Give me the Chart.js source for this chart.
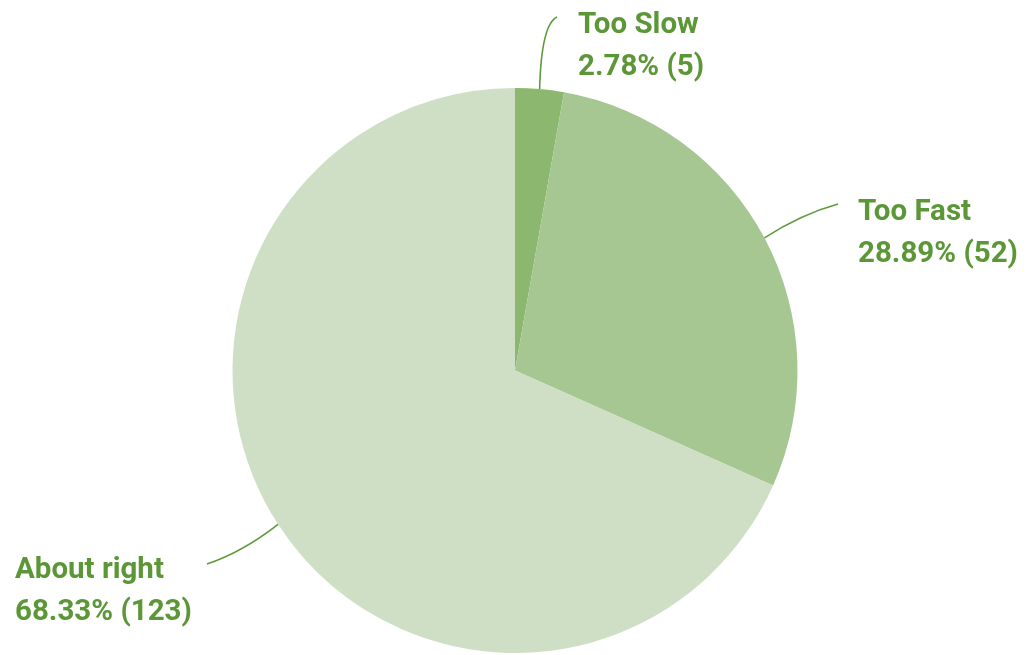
<!DOCTYPE html>
<html>
<head>
<meta charset="utf-8">
<script src="https://cdn.jsdelivr.net/npm/chart.js@4/dist/chart.umd.min.js"></script>
<style>
    html, body { margin: 0; padding: 0; background: #fff; }
    #wrap { width: 1031px; height: 655px; position: relative; }
</style>
</head>
<body>
<div id="wrap"><canvas id="paceChart"></canvas></div>
<script>
var labels = ["Too Slow", "Too Fast", "About right"];
var counts = [5, 52, 123];
var percents = ["2.78%", "28.89%", "68.33%"];
var colors = ["#8bb76f", "#a6c791", "#cfdfc5"];

// where each caption sits (left edge, first baseline), where its leader ends,
// and how the leader bends (bx, by = control point fraction along x / y)
var captionPos = [
    { x: 578, y: 33, lx: 557, ly: 17, bx: 0.1, by: 0.9 },
    { x: 858, y: 220, lx: 838, ly: 204, bx: 0.5, by: 0.7 },
    { x: 15, y: 578, lx: 207, ly: 564, bx: 0.5, by: 0.7 }
];

var leaderLabels = {
    id: 'leaderLabels',
    afterDraw: function(chart) {
        var ctx = chart.ctx;
        var meta = chart.getDatasetMeta(0);
        ctx.save();
        for (var i = 0; i < meta.data.length; i++) {
            var arc = meta.data[i];
            var p = arc.getProps(['x', 'y', 'startAngle', 'endAngle', 'outerRadius'], true);
            var mid = (p.startAngle + p.endAngle) / 2;
            var sx = p.x + Math.cos(mid) * p.outerRadius;
            var sy = p.y + Math.sin(mid) * p.outerRadius;
            var pos = captionPos[i];
            var cx = sx + (pos.lx - sx) * pos.bx;
            var cy = sy + (pos.ly - sy) * pos.by;

            ctx.beginPath();
            ctx.moveTo(sx, sy);
            ctx.quadraticCurveTo(cx, cy, pos.lx, pos.ly);
            ctx.strokeStyle = "#5e9a3a";
            ctx.lineWidth = 1.6;
            ctx.stroke();

            ctx.fillStyle = "#5b9737";
            ctx.font = "bold 29.5px Roboto";
            ctx.textAlign = "left";
            ctx.textBaseline = "alphabetic";
            ctx.fillText(labels[i], pos.x, pos.y);
            ctx.fillText(percents[i] + " (" + counts[i] + ")", pos.x, pos.y + 42);
        }
        ctx.restore();
    }
};

var chart = new Chart(document.getElementById("paceChart"), {
    type: 'pie',
    data: {
        labels: labels,
        datasets: [{
            data: counts,
            backgroundColor: colors,
            borderWidth: 0
        }]
    },
    options: {
        responsive: true,
        maintainAspectRatio: false,
        animation: false,
        layout: {
            padding: { top: 88, bottom: 2, left: 0, right: 1 }
        },
        plugins: {
            legend: { display: false },
            tooltip: { enabled: false }
        }
    },
    plugins: [leaderLabels]
});
</script>
</body>
</html>
